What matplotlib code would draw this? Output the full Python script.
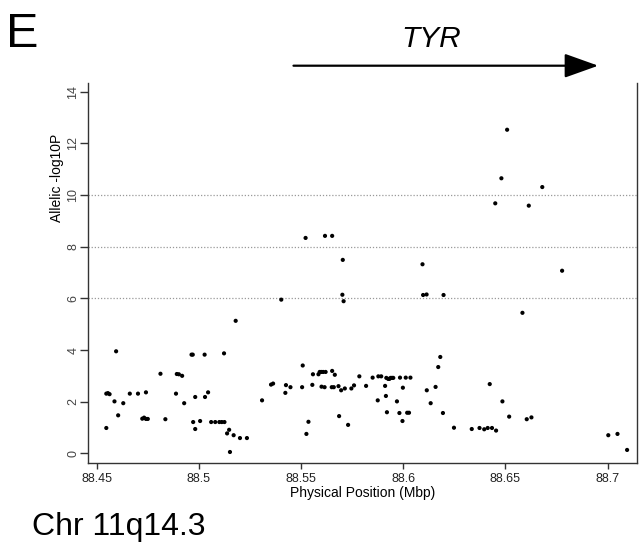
import matplotlib
matplotlib.use("Agg")
import matplotlib.pyplot as plt
from matplotlib.patches import FancyArrowPatch

plt.rcParams['font.family'] = ['Liberation Sans', 'DejaVu Sans']

# ---- data ----
position_mbp = [
    88.4547, 88.4547, 88.4555, 88.4563, 88.4587, 88.4595, 88.4605, 88.4630, 88.4662, 88.4702,
    88.4723, 88.4732, 88.4741, 88.4750, 88.4741, 88.4812, 88.4836, 88.4888, 88.4892, 88.4902,
    88.4918, 88.4928, 88.4964, 88.4970, 88.4972, 88.4982, 88.4982, 88.5006, 88.5028, 88.5030,
    88.5045, 88.5060, 88.5080, 88.5100, 88.5112, 88.5125, 88.5123, 88.5138, 88.5148, 88.5152,
    88.5170, 88.5180, 88.5201, 88.5235, 88.5309, 88.5353, 88.5363, 88.5403, 88.5423, 88.5426,
    88.5448, 88.5505, 88.5508, 88.5522, 88.5526, 88.5536, 88.5555, 88.5558, 88.5585, 88.5591,
    88.5599, 88.5608, 88.5620, 88.5600, 88.5617, 88.5615, 88.5652, 88.5652, 88.5650, 88.5660,
    88.5665, 88.5683, 88.5686, 88.5696, 88.5704, 88.5702, 88.5708, 88.5714, 88.5730, 88.5746,
    88.5759, 88.5785, 88.5818, 88.5850, 88.5875, 88.5878, 88.5892, 88.5911, 88.5915, 88.5917,
    88.5920, 88.5926, 88.5932, 88.5938, 88.5945, 88.5951, 88.5969, 88.5981, 88.5984, 88.5996,
    88.5998, 88.6012, 88.6019, 88.6028, 88.6035, 88.6094, 88.6097, 88.6114, 88.6115, 88.6134,
    88.6158, 88.6171, 88.6181, 88.6194, 88.6197, 88.6248, 88.6335, 88.6373, 88.6396, 88.6413,
    88.6423, 88.6434, 88.6450, 88.6454, 88.6480, 88.6485, 88.6508, 88.6518, 88.6583, 88.6604,
    88.6614, 88.6627, 88.6680, 88.6777, 88.7003, 88.7048, 88.7095,
]
neg_log10_p = [
    0.98, 2.31, 2.33, 2.29, 2.01, 3.95, 1.47, 1.94, 2.31, 2.31,
    1.34, 1.38, 1.33, 1.33, 2.36, 3.08, 1.32, 2.31, 3.07, 3.06,
    3.00, 1.94, 3.82, 3.82, 1.21, 2.18, 0.94, 1.25, 3.82, 2.18,
    2.36, 1.21, 1.21, 1.21, 1.21, 1.21, 3.87, 0.77, 0.91, 0.05,
    0.70, 5.13, 0.59, 0.59, 2.05, 2.66, 2.70, 5.95, 2.34, 2.64,
    2.56, 2.56, 3.40, 8.34, 0.75, 1.22, 2.65, 3.06, 3.06, 3.15,
    3.15, 3.15, 3.15, 2.58, 8.42, 2.56, 8.42, 3.19, 2.56, 2.56,
    3.04, 2.60, 1.44, 2.44, 7.49, 6.14, 5.89, 2.51, 1.10, 2.51,
    2.63, 2.98, 2.61, 2.93, 2.05, 2.98, 2.98, 2.61, 2.22, 2.92,
    1.59, 2.88, 2.88, 2.92, 2.92, 2.92, 2.01, 1.56, 2.93, 1.25,
    2.54, 2.93, 1.57, 1.57, 2.93, 7.32, 6.13, 6.15, 2.44, 1.94,
    2.57, 3.34, 3.73, 1.56, 6.13, 0.99, 0.94, 0.98, 0.93, 0.98,
    2.68, 0.98, 9.68, 0.88, 10.65, 2.01, 12.53, 1.42, 5.44, 1.32,
    9.59, 1.39, 10.31, 7.07, 0.70, 0.75, 0.13,
]
x_ticks = [88.45, 88.5, 88.55, 88.6, 88.65, 88.7]
x_tick_labels = ["88.45", "88.5", "88.55", "88.6", "88.65", "88.7"]
y_ticks = [0, 2, 4, 6, 8, 10, 12, 14]
ref_lines = [6, 8, 10]

W, H = 639, 543
fig = plt.figure(figsize=(W / 100, H / 100), dpi=100)
ax = fig.add_axes([87.7 / W, (H - 463) / H, (636.7 - 87.7) / W, (463 - 83) / H])

for yv in ref_lines:
    ax.axhline(yv, color='#999999', lw=0.9, ls=(0, (1, 1.5)), zorder=1)

ax.scatter(position_mbp, neg_log10_p, s=9, c='black', edgecolors='none', zorder=3)

ax.set_xlim(88.4456, 88.7142)
ax.set_ylim(-0.376, 14.34)
ax.set_xticks(x_ticks)
ax.set_xticklabels(x_tick_labels)
ax.set_yticks(y_ticks)
ax.set_yticklabels([str(v) for v in y_ticks])

ax.spines['top'].set_visible(False)
for s in ['left', 'bottom', 'right']:
    ax.spines[s].set_color('#333333')
    ax.spines[s].set_linewidth(1.0)

ax.tick_params(axis='x', length=4, width=1, color='#333333', pad=3.2, labelsize=9, labelcolor='#222222')
ax.tick_params(axis='y', length=5.5, width=1, color='#333333', pad=0.5, labelsize=9,
               labelcolor='#444444', labelrotation=90)
for lab in ax.get_yticklabels():
    lab.set_va('center')

ax.set_xlabel("Physical Position (Mbp)", fontsize=10)
ax.xaxis.set_label_coords(0.5, (463 - 493) / 380)
ax.xaxis.label.set_va('center')
ax.set_ylabel("Allelic -log10P", fontsize=10)
ax.yaxis.set_label_coords((57 - 87.7) / 549, (463 - 178) / 380)
ax.yaxis.label.set_va('center')

# panel letter and region label
fig.text(6 / W, (H - 47) / H, "E", fontsize=35, ha='left', va='baseline')
fig.text(32 / W, (H - 535) / H, "Chr 11q14.3", fontsize=23, ha='left', va='baseline')

# gene arrow
arrow = FancyArrowPatch((290.7 / W, (H - 65.7) / H), (601 / W, (H - 65.7) / H),
                        transform=fig.transFigure, arrowstyle='-|>,head_length=21,head_width=7.5',
                        mutation_scale=1, lw=1.6, color='black')
fig.patches.append(arrow)
fig.text(431 / W, (H - 46.7) / H, "TYR", fontsize=21.5, style='italic', ha='center', va='baseline')

fig.savefig("out.png", dpi=100)
